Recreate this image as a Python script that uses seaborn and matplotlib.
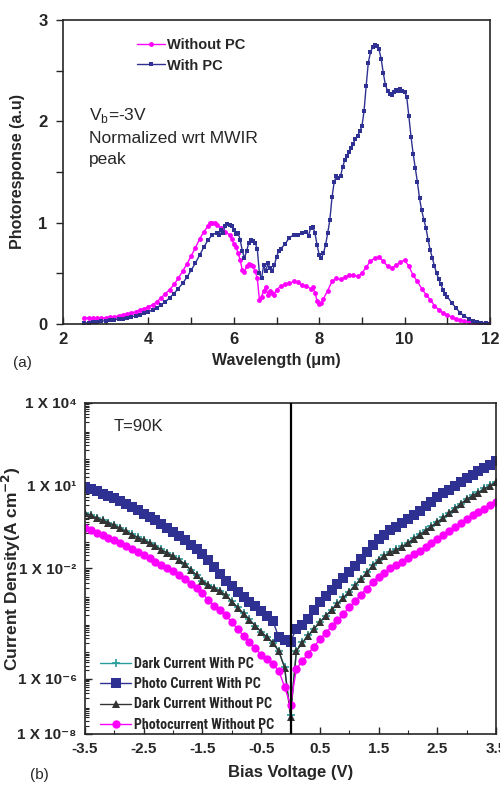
import numpy as np
import pandas as pd
import matplotlib
matplotlib.use("Agg")
import matplotlib.pyplot as plt
from matplotlib import font_manager
from matplotlib.ticker import MultipleLocator, FixedLocator, NullFormatter, LogLocator
import seaborn as sns

# ---------------- data: panel (a) ----------------
wl_with_pc = [2.5, 2.6, 2.7, 2.8, 2.9, 3.0, 3.1, 3.2, 3.3, 3.4, 3.5, 3.6, 3.7, 3.8, 3.9, 4.0,
              4.1, 4.2, 4.3, 4.4, 4.5, 4.6, 4.7, 4.8, 4.9, 5.0, 5.1, 5.2, 5.3, 5.4, 5.5, 5.6,
              5.65, 5.7, 5.75, 5.8, 5.85, 5.9, 5.95, 6.0, 6.05, 6.1, 6.15, 6.2, 6.25, 6.3, 6.35,
              6.4, 6.45, 6.5, 6.55, 6.6, 6.65, 6.7, 6.75, 6.8, 6.85, 6.9, 6.95, 7.0, 7.05, 7.1,
              7.2, 7.3, 7.4, 7.5, 7.6, 7.7, 7.75, 7.8, 7.85, 7.9, 7.95, 8.0, 8.05, 8.1, 8.15,
              8.2, 8.25, 8.3, 8.35, 8.4, 8.45, 8.5, 8.55, 8.6, 8.65, 8.7, 8.75, 8.8, 8.85, 8.9,
              8.95, 9.0, 9.05, 9.1, 9.15, 9.2, 9.25, 9.3, 9.35, 9.4, 9.45, 9.5, 9.55, 9.6, 9.65,
              9.7, 9.75, 9.8, 9.85, 9.9, 9.95, 10.0, 10.05, 10.1, 10.15, 10.2, 10.25, 10.3, 10.35,
              10.4, 10.45, 10.5, 10.55, 10.6, 10.65, 10.7, 10.75, 10.8, 10.85, 10.9, 10.95, 11.0,
              11.1, 11.2, 11.3, 11.4, 11.5, 11.6, 11.7, 11.8, 11.9, 12.0]
resp_with_pc = [0.01, 0.01, 0.02, 0.02, 0.03, 0.03, 0.04, 0.04, 0.05, 0.05, 0.06, 0.07, 0.08, 0.09, 0.11, 0.12,
                0.14, 0.16, 0.19, 0.22, 0.26, 0.30, 0.35, 0.40, 0.46, 0.53, 0.60, 0.68, 0.76, 0.83, 0.88, 0.90,
                0.88, 0.93, 0.90, 0.97, 0.99, 0.98, 0.97, 0.93, 0.89, 0.90, 0.83, 0.72, 0.65, 0.72, 0.80,
                0.83, 0.82, 0.80, 0.74, 0.50, 0.45, 0.58, 0.52, 0.60, 0.55, 0.52, 0.58, 0.66, 0.72, 0.74,
                0.79, 0.85, 0.88, 0.88, 0.90, 0.91, 0.87, 0.95, 0.96, 0.90, 0.78, 0.68, 0.65, 0.70, 0.78,
                0.90, 1.03, 1.25, 1.40, 1.46, 1.44, 1.46, 1.55, 1.62, 1.66, 1.70, 1.74, 1.78, 1.83, 1.86,
                1.90, 1.95, 2.10, 2.35, 2.58, 2.68, 2.73, 2.75, 2.74, 2.71, 2.62, 2.48, 2.36, 2.30, 2.27,
                2.26, 2.29, 2.31, 2.30, 2.32, 2.30, 2.29, 2.24, 2.05, 1.85, 1.68, 1.54, 1.40, 1.24,
                1.12, 1.03, 0.95, 0.83, 0.73, 0.65, 0.57, 0.50, 0.44, 0.39, 0.34, 0.30, 0.27,
                0.21, 0.16, 0.11, 0.08, 0.05, 0.03, 0.02, 0.01, 0.01, 0.0]

wl_without_pc = [2.5, 2.6, 2.7, 2.8, 2.9, 3.0, 3.1, 3.2, 3.3, 3.4, 3.5, 3.6, 3.7, 3.8, 3.9, 4.0,
                 4.1, 4.2, 4.3, 4.4, 4.5, 4.6, 4.7, 4.8, 4.9, 5.0, 5.1, 5.2, 5.3, 5.4, 5.45, 5.5,
                 5.55, 5.6, 5.7, 5.8, 5.9, 5.95, 6.0, 6.05, 6.1, 6.15, 6.2, 6.25, 6.3, 6.35, 6.4,
                 6.45, 6.5, 6.55, 6.6, 6.65, 6.7, 6.75, 6.8, 6.85, 6.9, 6.95, 7.0, 7.1, 7.2, 7.3,
                 7.4, 7.5, 7.6, 7.7, 7.8, 7.85, 7.9, 7.95, 8.0, 8.05, 8.1, 8.2, 8.3, 8.4, 8.5, 8.6,
                 8.7, 8.8, 8.9, 9.0, 9.1, 9.2, 9.3, 9.4, 9.5, 9.6, 9.7, 9.8, 9.9, 10.0, 10.1, 10.2,
                 10.3, 10.4, 10.5, 10.6, 10.7, 10.8, 10.9, 11.0, 11.1, 11.2, 11.3, 11.4, 11.5, 11.6,
                 11.7, 11.8, 11.9, 12.0]
resp_without_pc = [0.06, 0.06, 0.06, 0.06, 0.06, 0.06, 0.07, 0.07, 0.08, 0.09, 0.10, 0.11, 0.12, 0.14, 0.15, 0.17,
                   0.19, 0.22, 0.26, 0.30, 0.34, 0.39, 0.45, 0.52, 0.59, 0.67, 0.75, 0.84, 0.91, 0.97, 1.00, 1.00,
                   1.00, 0.98, 0.95, 0.91, 0.88, 0.84, 0.79, 0.76, 0.70, 0.63, 0.53, 0.51, 0.57, 0.59, 0.58,
                   0.57, 0.52, 0.45, 0.24, 0.27, 0.33, 0.36, 0.29, 0.33, 0.31, 0.29, 0.34, 0.37, 0.39, 0.40,
                   0.42, 0.41, 0.38, 0.37, 0.35, 0.36, 0.31, 0.23, 0.20, 0.21, 0.25, 0.33, 0.42, 0.45, 0.44, 0.46,
                   0.48, 0.48, 0.47, 0.50, 0.56, 0.62, 0.65, 0.66, 0.62, 0.57, 0.55, 0.58, 0.61, 0.63, 0.57, 0.48,
                   0.42, 0.35, 0.29, 0.24, 0.18, 0.14, 0.11, 0.09, 0.07, 0.05, 0.04, 0.03, 0.02, 0.02,
                   0.01, 0.01, 0.01, 0.01]

# ---------------- data: panel (b) ----------------
bias_v = [-3.5, -3.4, -3.3, -3.2, -3.1, -3.0, -2.9, -2.8, -2.7, -2.6, -2.5, -2.4, -2.3, -2.2, -2.1, -2.0,
          -1.9, -1.8, -1.7, -1.6, -1.5, -1.4, -1.3, -1.2, -1.1, -1.0, -0.9, -0.8, -0.7, -0.6, -0.5, -0.4,
          -0.3, -0.2, -0.1, 0.0, 0.1, 0.2, 0.3, 0.4, 0.5, 0.6, 0.7, 0.8, 0.9, 1.0, 1.1, 1.2, 1.3, 1.4,
          1.5, 1.6, 1.7, 1.8, 1.9, 2.0, 2.1, 2.2, 2.3, 2.4, 2.5, 2.6, 2.7, 2.8, 2.9, 3.0, 3.1, 3.2,
          3.3, 3.4, 3.5]
# log10 of current density (A cm^-2)
photo_with_pc_log10 = [0.95, 0.87, 0.79, 0.71, 0.63, 0.55, 0.44, 0.33, 0.22, 0.11, -0.01, -0.12, -0.25, -0.39, -0.53, -0.67,
                       -0.83, -0.98, -1.14, -1.30, -1.47, -1.70, -1.93, -2.20, -2.45, -2.65, -2.84, -3.02, -3.20, -3.37, -3.55, -3.72,
                       -3.90, -4.50, -4.58, -4.66, -4.18, -4.05, -3.85, -3.52, -3.23, -3.00, -2.78, -2.56, -2.35, -2.13, -1.90, -1.65, -1.40, -1.15,
                       -0.95, -0.78, -0.62, -0.48, -0.35, -0.20, -0.05, 0.10, 0.26, 0.42, 0.58, 0.72, 0.85, 0.99, 1.13, 1.27, 1.40, 1.52,
                       1.63, 1.76, 1.90]
dark_without_pc_log10 = [0.01, -0.08, -0.17, -0.26, -0.35, -0.44, -0.55, -0.66, -0.77, -0.88, -0.97, -1.08, -1.20, -1.32, -1.44, -1.56,
                         -1.68, -1.85, -2.05, -2.25, -2.45, -2.60, -2.72, -2.82, -2.98, -3.20, -3.42, -3.64, -3.86, -4.08, -4.30, -4.50,
                         -4.70, -5.00, -5.60, -7.38, -5.00, -4.70, -4.45, -4.20, -3.95, -3.73, -3.51, -3.29, -3.07, -2.86, -2.62, -2.39, -2.16, -1.90,
                         -1.70, -1.55, -1.42, -1.33, -1.22, -1.08, -0.93, -0.78, -0.63, -0.48, -0.33, -0.17, 0.00, 0.17, 0.33, 0.50, 0.63, 0.75,
                         0.88, 1.00, 1.13]
dark_with_pc_log10 = [0.02, -0.07, -0.16, -0.25, -0.34, -0.43, -0.54, -0.65, -0.76, -0.87, -0.96, -1.07, -1.19, -1.31, -1.43, -1.55,
                      -1.67, -1.84, -2.04, -2.24, -2.44, -2.59, -2.71, -2.81, -2.97, -3.19, -3.41, -3.63, -3.85, -4.07, -4.29, -4.49,
                      -4.69, -4.99, -5.58, -7.30, -4.98, -4.68, -4.43, -4.18, -3.93, -3.71, -3.49, -3.27, -3.05, -2.84, -2.60, -2.37, -2.14, -1.88,
                      -1.68, -1.53, -1.40, -1.31, -1.20, -1.06, -0.91, -0.76, -0.61, -0.46, -0.31, -0.15, 0.02, 0.19, 0.35, 0.52, 0.65, 0.77,
                      0.90, 1.02, 1.15]
photo_without_pc_log10 = [-0.53, -0.62, -0.71, -0.80, -0.89, -0.98, -1.09, -1.20, -1.31, -1.42, -1.53, -1.63, -1.75, -1.86, -1.98, -2.10,
                          -2.22, -2.40, -2.55, -2.70, -2.90, -3.15, -3.35, -3.50, -3.70, -3.95, -4.20, -4.45, -4.68, -4.90, -5.12, -5.30,
                          -5.47, -5.70, -6.30, -6.95, -5.65, -5.35, -5.10, -4.83, -4.57, -4.33, -4.10, -3.87, -3.64, -3.41, -3.18, -2.95, -2.73, -2.50,
                          -2.30, -2.15, -2.00, -1.88, -1.75, -1.62, -1.48, -1.35, -1.22, -1.08, -0.94, -0.79, -0.64, -0.49, -0.35, -0.20, -0.07, 0.05,
                          0.17, 0.29, 0.42]

ytick_values_b = [1e-8, 1e-6, 1e-2, 1e1, 1e4]
ytick_labels_b = ["1 X 10\u207b\u2078", "1 X 10\u207b\u2076", "1 X 10\u207b\u00b2", "1 X 10\u00b9", "1 X 10\u2074"]
xtick_values_b = [-3.5, -2.5, -1.5, -0.5, 0.5, 1.5, 2.5, 3.5]

# ---------------- style ----------------
sns.set_style("ticks")
plt.rcParams["font.family"] = ["Liberation Sans", "DejaVu Sans"]
plt.rcParams["axes.linewidth"] = 1.2

available = {f.name for f in font_manager.fontManager.ttflist}
narrow_family = None
for cand in ["Liberation Sans Narrow", "DejaVu Sans Condensed", "Roboto Condensed", "Open Sans Condensed"]:
    if cand in available:
        narrow_family = cand
        break
if narrow_family is not None:
    leg_prop = {"family": [narrow_family, "DejaVu Sans"], "weight": "bold", "size": 10.2}
else:
    leg_prop = {"family": ["Liberation Sans", "DejaVu Sans"], "weight": "bold", "size": 9}

MAGENTA = "#ff00ff"
NAVY = "#2e3192"
DARK = "#333333"
TEAL = "#2a9d9d"

fig = plt.figure(figsize=(5.0, 7.85), dpi=100)

# ---------------- panel (a) ----------------
ax1 = fig.add_axes([0.126, 0.5873, 0.854, 0.3872])
sns.lineplot(x=wl_without_pc, y=resp_without_pc, ax=ax1, color=MAGENTA, marker="o",
             markersize=5, markeredgewidth=0, linewidth=2.5, label="Without PC", sort=False)
sns.lineplot(x=wl_with_pc, y=resp_with_pc, ax=ax1, color=NAVY, marker="s",
             markersize=4.5, markeredgewidth=0, linewidth=1.2, label="With PC", sort=False)
ax1.set_xlim(2, 12)
ax1.set_ylim(0, 3)
ax1.xaxis.set_major_locator(MultipleLocator(2))
ax1.xaxis.set_minor_locator(MultipleLocator(1))
ax1.yaxis.set_major_locator(MultipleLocator(1))
ax1.yaxis.set_minor_locator(MultipleLocator(0.5))
ax1.tick_params(axis="x", which="both", direction="in", length=5, width=1, pad=6)
ax1.tick_params(axis="y", which="both", direction="out", length=5, width=1, pad=6)
for lab in ax1.get_xticklabels() + ax1.get_yticklabels():
    lab.set_fontweight("bold")
    lab.set_fontsize(12)
ax1.set_xlabel("Wavelength (\u03bcm)", fontsize=11.5, fontweight="bold", labelpad=4)
ax1.set_ylabel("Photoresponse (a.u)", fontsize=11.5, fontweight="bold", labelpad=10)
handles1, labels1 = ax1.get_legend_handles_labels()
for h in handles1:
    h.set_linewidth(1.0)
    h.set_markersize(3.5)
ax1.legend(handles1, labels1, loc="upper left", bbox_to_anchor=(0.16, 0.96), frameon=False,
           prop={"weight": "bold", "size": 10.5}, handlelength=1.9,
           handletextpad=0.15, labelspacing=0.45, borderaxespad=0)
ax1.text(0.06, 0.685, "V$_\\mathregular{b}$=-3V", transform=ax1.transAxes, fontsize=12.5, va="center")
ax1.text(0.06, 0.61, "Normalized wrt MWIR", transform=ax1.transAxes, fontsize=12.5, va="center")
ax1.text(0.06, 0.54, "peak", transform=ax1.transAxes, fontsize=12.5, va="center")
fig.text(0.025, 0.537, "(a)", fontsize=11, va="center")

# ---------------- panel (b) ----------------
ax2 = fig.add_axes([0.17, 0.065, 0.822, 0.4217])
v = np.array(bias_v)
series_b = [
    ("Dark Current With PC", dark_with_pc_log10, TEAL, "+", 6, 1.0),
    ("Photo Current With PC", photo_with_pc_log10, NAVY, "s", 6.5, 1.0),
    ("Dark Current Without PC", dark_without_pc_log10, DARK, "^", 6, 1.0),
    ("Photocurrent Without PC", photo_without_pc_log10, MAGENTA, "o", 6, 1.0),
]
for name, vals, col, mk, ms, lw in series_b:
    sns.lineplot(x=v, y=10.0 ** np.array(vals), ax=ax2, color=col, marker=mk, markersize=ms,
                 markeredgewidth=1.2 if mk == "+" else 0, markeredgecolor=col,
                 linewidth=lw, label=name, sort=False)
ax2.set_yscale("log")
ax2.set_xlim(-3.5, 3.5)
ax2.set_ylim(1e-8, 1e4)
ax2.axvline(0, color="black", linewidth=1.6, zorder=5)
ax2.xaxis.set_major_locator(FixedLocator(xtick_values_b))
ax2.xaxis.set_minor_locator(MultipleLocator(1))
ax2.yaxis.set_major_locator(FixedLocator(ytick_values_b))
ax2.yaxis.set_minor_locator(LogLocator(base=10, subs=np.arange(2, 10), numticks=30))
ax2.yaxis.set_minor_formatter(NullFormatter())
ax2.set_yticklabels(ytick_labels_b)
ax2.set_xticklabels([f"{t:.1f}" for t in xtick_values_b])
ax2.tick_params(axis="both", which="major", direction="in", length=5, width=1, pad=6)
ax2.tick_params(axis="both", which="minor", direction="in", length=3, width=0.8)
for lab in ax2.get_xticklabels() + ax2.get_yticklabels():
    lab.set_fontweight("heavy")
    lab.set_fontsize(11)
ax2.set_xlabel("Bias Voltage (V)", fontsize=12, fontweight="heavy", labelpad=6)
ax2.set_ylabel("Current Density(A cm$^{\\mathbf{-2}}$)", fontsize=12.5, fontweight="heavy", labelpad=2)
ax2.yaxis.set_label_coords(-0.15, 0.5)
ax2.legend(loc="lower left", bbox_to_anchor=(0.02, -0.015), frameon=False,
           prop=leg_prop, handlelength=2.2, handletextpad=0.2, labelspacing=0.45, borderaxespad=0.1)
ax2.text(0.07, 0.93, "T=90K", transform=ax2.transAxes, fontsize=12, va="center")
fig.text(0.06, 0.013, "(b)", fontsize=11, va="center")

fig.savefig("out.png", dpi=100)
